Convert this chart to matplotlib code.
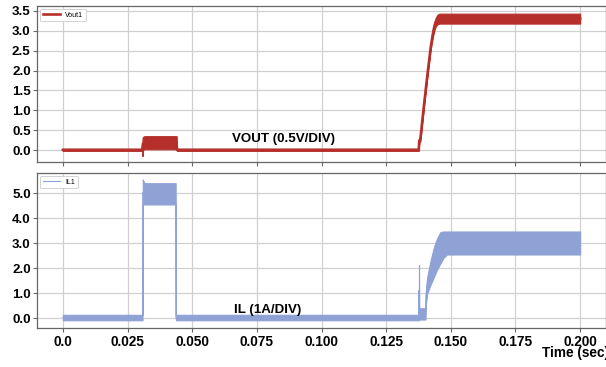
import matplotlib
matplotlib.use("Agg")
import matplotlib.pyplot as plt
import numpy as np

plt.rcParams['font.family'] = ['Liberation Sans', 'DejaVu Sans']

# ---- Vout1 envelope (time, lower, upper) ----
vout_t  = [0.0, 0.0307, 0.0308, 0.0310, 0.0315, 0.0440, 0.0441, 0.1376, 0.1378, 0.1382, 0.1396,
           0.1410, 0.1422, 0.1430, 0.1436, 0.1441, 0.1448, 0.1455, 0.2000]
vout_lo = [-0.02, -0.02, -0.15, 0.00, 0.02, 0.02, -0.02, -0.02, 0.18, 0.22, 1.08,
           1.88, 2.52, 2.82, 3.00, 3.10, 3.16, 3.18, 3.18]
vout_hi = [0.03, 0.03, 0.30, 0.33, 0.35, 0.35, 0.03, 0.03, 0.30, 0.30, 1.15,
           1.96, 2.62, 2.98, 3.20, 3.32, 3.40, 3.43, 3.43]

# ---- IL1 envelope (time, lower, upper) ----
il_t  = [0.0, 0.0308, 0.0309, 0.0311, 0.0316, 0.0436, 0.0437, 0.0438, 0.1376, 0.1377, 0.1378,
         0.1379, 0.1402, 0.1404, 0.1409, 0.1422, 0.1435, 0.1447, 0.1460, 0.1472, 0.1485, 0.2000]
il_lo = [-0.08, -0.08, 4.50, 4.55, 4.55, 4.55, -0.05, -0.08, -0.08, 0.10, 0.00,
         -0.05, -0.05, 0.60, 1.00, 1.35, 1.66, 1.95, 2.20, 2.42, 2.55, 2.55]
il_hi = [0.14, 0.14, 5.55, 5.50, 5.40, 5.40, 0.14, 0.14, 0.14, 2.13, 0.40,
         0.40, 0.40, 1.20, 1.66, 2.33, 2.86, 3.20, 3.45, 3.47, 3.47, 3.47]

vout_ticks = [0.0, 0.5, 1.0, 1.5, 2.0, 2.5, 3.0, 3.5]
il_ticks = [0.0, 1.0, 2.0, 3.0, 4.0, 5.0]
time_ticks = [0.0, 0.025, 0.050, 0.075, 0.100, 0.125, 0.150, 0.175, 0.200]
time_labels = ["0.0", "0.025", "0.050", "0.075", "0.100", "0.125", "0.150", "0.175", "0.200"]

red = '#b5302a'
blue = '#8fa2d6'
W, H = 606, 367

fig = plt.figure(figsize=(W / 100, H / 100), dpi=100)
left = 37 / W
width = (606 - 37) / W
ax1 = fig.add_axes([left, (H - 162) / H, width, (162 - 5.7) / H])
ax2 = fig.add_axes([left, (H - 328.3) / H, width, (328.3 - 172.7) / H])

def style(ax, yticks, ylim):
    ax.set_xlim(-0.01, 0.21)
    ax.set_ylim(*ylim)
    ax.set_xticks(time_ticks)
    ax.set_yticks(yticks)
    ax.set_yticklabels([f"{v:.1f}" for v in yticks])
    ax.grid(True, color='#d0d0d0', linewidth=0.9)
    ax.set_axisbelow(True)
    for s in ax.spines.values():
        s.set_color('#666666')
        s.set_linewidth(0.9)
    ax.tick_params(direction='out', length=3, width=0.8, color='#666666',
                   labelsize=9.6, pad=1.5)
    for lab in ax.get_yticklabels() + ax.get_xticklabels():
        lab.set_fontweight('bold')

# Top: Vout
vt = np.array(vout_t); vl = np.array(vout_lo); vh = np.array(vout_hi)
ax1.fill_between(vt, vl, vh, color=red, linewidth=0.8, edgecolor=red, zorder=3)
ax1.plot(vt, (vl + vh) / 2, color=red, linewidth=1.9, label='Vout1', zorder=3)
style(ax1, vout_ticks, (-0.30, 3.63))
ax1.set_xticklabels([])
ax1.text(0.0853, 0.29, 'VOUT (0.5V/DIV)', fontsize=9.6, fontweight='bold',
         ha='center', va='center', zorder=5)
leg1 = ax1.legend(loc='upper left', fontsize=5, borderaxespad=0.45, handlelength=2.4,
                  fancybox=True, framealpha=1, edgecolor='#cccccc')
leg1.get_frame().set_linewidth(0.6)

# Bottom: IL
it = np.array(il_t); il_l = np.array(il_lo); il_h = np.array(il_hi)
ax2.fill_between(it, il_l, il_h, color=blue, linewidth=0.8, edgecolor=blue, zorder=3)
ax2.plot(it, (il_l + il_h) / 2, color=blue, linewidth=0.8, label='IL1', zorder=3)
style(ax2, il_ticks, (-0.40, 5.82))
ax2.set_xticklabels(time_labels)
for lab in ax2.get_xticklabels():
    lab.set_fontweight('bold')
    lab.set_fontsize(9.8)
ax2.text(0.0792, 0.33, 'IL (1A/DIV)', fontsize=9.6, fontweight='bold',
         ha='center', va='center', zorder=5)
leg2 = ax2.legend(loc='upper left', fontsize=5, borderaxespad=0.45, handlelength=2.4,
                  fancybox=True, framealpha=1, edgecolor='#cccccc')
leg2.get_frame().set_linewidth(0.6)

ax2.set_xlabel('Time (sec)', fontsize=9.8, fontweight='bold')
ax2.xaxis.label.set_ha('left')
ax2.xaxis.label.set_va('center')
ax2.xaxis.set_label_coords((541.7 - 37) / 569, (328.3 - 353.3) / 155.6)

fig.savefig('out.png', dpi=100)
